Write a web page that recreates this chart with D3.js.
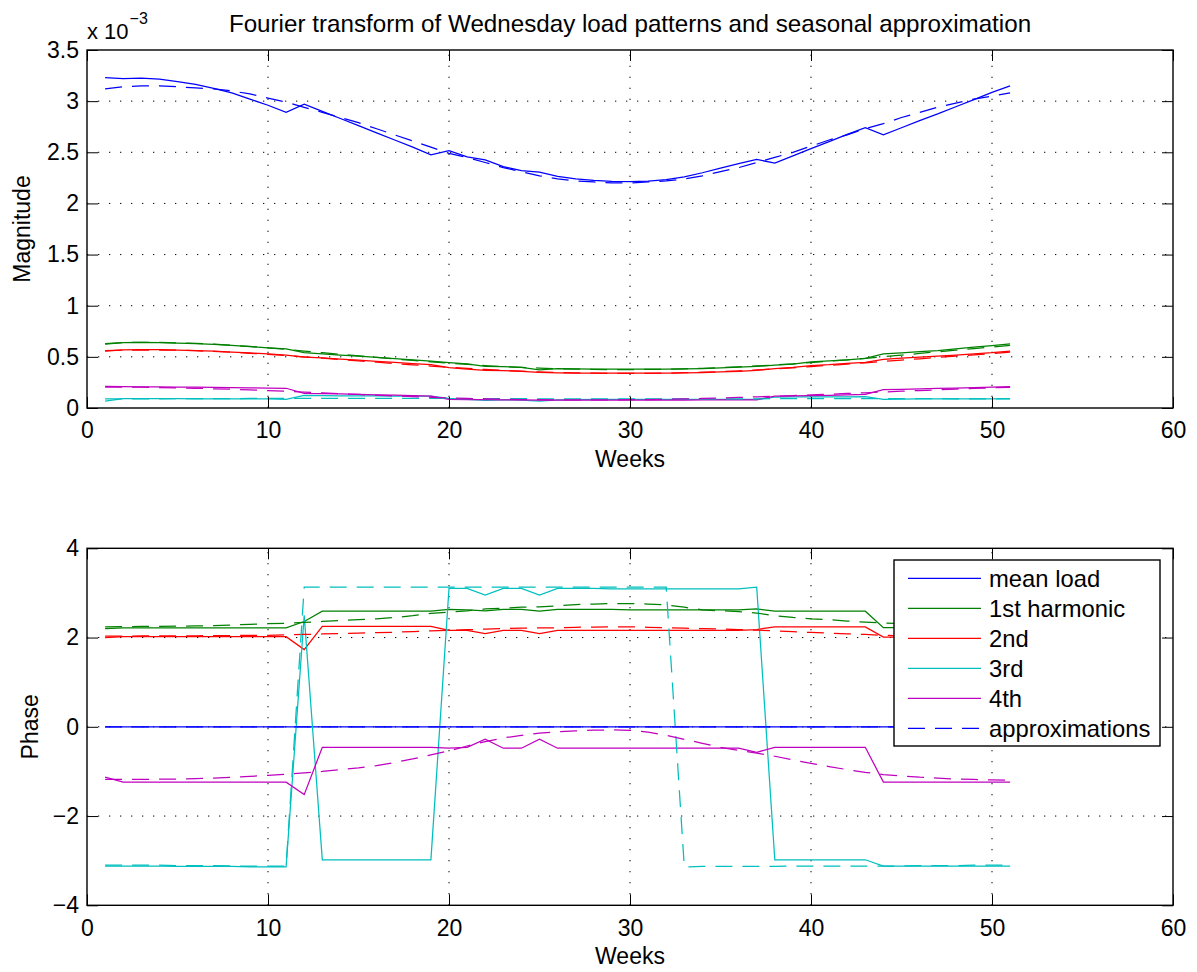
<!DOCTYPE html>
<html>
<head>
<meta charset="utf-8">
<script src="https://cdn.jsdelivr.net/npm/d3@7"></script>
<style>
  html, body { margin: 0; padding: 0; background: #fff; }
  svg { display: block; }
  text { font-family: "Liberation Sans", Arial, Helvetica, sans-serif; fill: #000; }
</style>
</head>
<body>
<svg id="chart" width="1197" height="972"></svg>
<script>
// ---------------- DATA ----------------
const weeks = [1,2,3,4,5,6,7,8,9,10,11,12,13,14,15,16,17,18,19,20,21,22,23,24,25,26,27,28,29,30,31,32,33,34,35,36,37,38,39,40,41,42,43,44,45,46,47,48,49,50,51];

const xTicks = [0,10,20,30,40,50,60];
const magTicks = [0,0.5,1,1.5,2,2.5,3,3.5];
const phaseTicks = [-4,-2,0,2,4];

const seriesNames = ["mean load","1st harmonic","2nd","3rd","4th"];
const seriesColors = ["#0000ff","#008000","#ff0000","#00bfbf","#bf00bf"];
const approxLabel = "approximations";

// Magnitude (x 10^-3)
const magMean = [3.23,3.22,3.225,3.215,3.19,3.165,3.125,3.08,3.02,2.96,
  2.89,2.97,2.90,2.83,2.76,2.69,2.62,2.55,2.475,2.515,
  2.455,2.425,2.36,2.32,2.305,2.265,2.24,2.225,2.215,2.212,
  2.218,2.232,2.26,2.30,2.345,2.39,2.43,2.395,2.465,2.535,
  2.605,2.675,2.74,2.67,2.74,2.81,2.875,2.945,3.015,3.085,3.15];
const magMeanApprox = [3.12,3.14,3.15,3.15,3.14,3.13,3.12,3.10,3.07,3.03,
  2.99,2.94,2.89,2.84,2.79,2.73,2.67,2.61,2.55,2.49,
  2.45,2.40,2.35,2.31,2.27,2.24,2.22,2.21,2.20,2.20,
  2.21,2.22,2.24,2.27,2.31,2.35,2.40,2.45,2.50,2.56,
  2.62,2.67,2.73,2.78,2.84,2.89,2.94,2.98,3.02,3.05,3.08];
const magH1 = [0.625,0.64,0.642,0.64,0.635,0.63,0.622,0.612,0.60,0.588,
  0.577,0.542,0.53,0.518,0.506,0.494,0.482,0.47,0.458,0.444,
  0.432,0.408,0.404,0.396,0.372,0.384,0.382,0.381,0.38,0.38,
  0.38,0.381,0.383,0.386,0.392,0.399,0.407,0.418,0.43,0.45,
  0.46,0.47,0.485,0.53,0.54,0.55,0.562,0.578,0.595,0.61,0.628];
const magH1Approx = [0.63,0.64,0.642,0.641,0.637,0.632,0.624,0.614,0.602,0.588,
  0.573,0.557,0.541,0.525,0.51,0.494,0.479,0.465,0.451,0.438,
  0.426,0.415,0.405,0.397,0.39,0.384,0.38,0.377,0.376,0.376,
  0.377,0.379,0.383,0.388,0.394,0.402,0.411,0.421,0.432,0.444,
  0.457,0.471,0.486,0.501,0.517,0.533,0.549,0.565,0.58,0.596,0.612];
const magH2 = [0.557,0.568,0.57,0.57,0.567,0.562,0.555,0.547,0.538,0.528,
  0.518,0.498,0.489,0.479,0.469,0.457,0.446,0.434,0.423,0.394,
  0.381,0.368,0.365,0.358,0.349,0.344,0.342,0.341,0.34,0.34,
  0.341,0.342,0.344,0.347,0.352,0.358,0.368,0.384,0.397,0.414,
  0.423,0.436,0.446,0.476,0.487,0.498,0.508,0.518,0.53,0.541,0.557];
const magH2Approx = [0.56,0.565,0.567,0.567,0.565,0.56,0.553,0.545,0.535,0.525,
  0.513,0.5,0.487,0.474,0.461,0.448,0.435,0.422,0.41,0.398,
  0.387,0.377,0.368,0.36,0.353,0.347,0.343,0.34,0.338,0.338,
  0.339,0.341,0.345,0.35,0.356,0.363,0.372,0.382,0.393,0.405,
  0.417,0.429,0.442,0.455,0.468,0.481,0.494,0.507,0.52,0.533,0.546];
const magH3 = [0.068,0.091,0.091,0.091,0.091,0.09,0.09,0.09,0.089,0.088,
  0.085,0.124,0.12,0.119,0.118,0.118,0.117,0.117,0.116,0.094,
  0.085,0.075,0.08,0.078,0.068,0.08,0.083,0.084,0.085,0.085,
  0.085,0.085,0.085,0.085,0.085,0.085,0.085,0.107,0.108,0.108,
  0.108,0.109,0.11,0.085,0.087,0.088,0.088,0.089,0.09,0.09,0.091];
const magH3Approx = [0.088,0.089,0.09,0.09,0.091,0.091,0.092,0.092,0.093,0.093,
  0.094,0.094,0.094,0.094,0.094,0.094,0.094,0.094,0.093,0.093,
  0.092,0.092,0.091,0.091,0.09,0.09,0.09,0.089,0.089,0.089,
  0.089,0.089,0.089,0.089,0.09,0.09,0.09,0.091,0.091,0.092,
  0.092,0.092,0.092,0.092,0.092,0.091,0.091,0.09,0.09,0.089,0.089];
const magH4 = [0.212,0.208,0.207,0.206,0.205,0.203,0.201,0.199,0.197,0.195,
  0.193,0.143,0.14,0.137,0.133,0.129,0.125,0.121,0.117,0.085,
  0.083,0.081,0.08,0.079,0.078,0.078,0.078,0.078,0.078,0.078,
  0.078,0.078,0.078,0.079,0.079,0.08,0.08,0.117,0.119,0.121,
  0.124,0.128,0.134,0.179,0.183,0.187,0.191,0.195,0.199,0.203,0.208];
const magH4Approx = [0.205,0.205,0.203,0.2,0.197,0.193,0.188,0.183,0.177,0.17,
  0.163,0.155,0.147,0.14,0.132,0.125,0.118,0.111,0.105,0.099,
  0.094,0.09,0.086,0.083,0.081,0.08,0.079,0.079,0.08,0.081,
  0.083,0.086,0.089,0.093,0.098,0.103,0.109,0.115,0.121,0.128,
  0.135,0.142,0.149,0.157,0.164,0.171,0.178,0.185,0.191,0.197,0.202];

// Phase
const phMean = [0,0,0,0,0,0,0,0,0,0,0,0,0,0,0,0,0,0,0,0,0,0,0,0,0,0,0,0,0,0,0,0,0,0,0,0,0,0,0,0,0,0,0,0,0,0,0,0,0,0,0];
const phMeanApprox = [0,0,0,0,0,0,0,0,0,0,0,0,0,0,0,0,0,0,0,0,0,0,0,0,0,0,0,0,0,0,0,0,0,0,0,0,0,0,0,0,0,0,0,0,0,0,0,0,0,0,0];
const phH1 = [2.20,2.217,2.217,2.217,2.217,2.217,2.217,2.217,2.217,2.217,
  2.217,2.36,2.59,2.59,2.59,2.59,2.59,2.59,2.59,2.63,
  2.62,2.60,2.63,2.63,2.59,2.63,2.63,2.63,2.63,2.62,
  2.62,2.62,2.62,2.62,2.62,2.62,2.64,2.59,2.59,2.59,
  2.59,2.59,2.59,2.22,2.22,2.22,2.22,2.22,2.22,2.22,2.22];
const phH1Approx = [2.24,2.245,2.25,2.25,2.255,2.26,2.27,2.28,2.295,2.31,
  2.32,2.34,2.36,2.38,2.40,2.42,2.45,2.49,2.54,2.57,
  2.60,2.64,2.66,2.68,2.69,2.71,2.74,2.75,2.76,2.76,
  2.75,2.73,2.68,2.62,2.60,2.58,2.55,2.49,2.45,2.42,
  2.40,2.37,2.345,2.325,2.31,2.29,2.27,2.26,2.25,2.24,2.23];
const phH2 = [2.0,2.02,2.02,2.02,2.02,2.02,2.02,2.02,2.02,2.02,
  2.02,1.73,2.25,2.25,2.25,2.25,2.25,2.25,2.25,2.16,
  2.16,2.09,2.16,2.16,2.09,2.16,2.16,2.16,2.16,2.16,
  2.16,2.16,2.16,2.16,2.16,2.16,2.18,2.24,2.24,2.24,
  2.24,2.24,2.24,2.01,2.01,2.01,2.01,2.01,2.01,2.01,2.01];
const phH2Approx = [2.03,2.03,2.035,2.035,2.04,2.04,2.045,2.045,2.05,2.05,
  2.06,2.07,2.08,2.09,2.10,2.11,2.12,2.135,2.15,2.16,
  2.175,2.19,2.20,2.21,2.215,2.22,2.23,2.235,2.24,2.24,
  2.23,2.22,2.21,2.20,2.19,2.18,2.165,2.15,2.13,2.115,
  2.10,2.085,2.07,2.05,2.04,2.03,2.02,2.015,2.01,2.005,2.0];
const phH3 = [-3.12,-3.12,-3.12,-3.12,-3.13,-3.13,-3.13,-3.13,-3.14,-3.14,
  -3.14,2.50,-2.98,-2.98,-2.98,-2.98,-2.98,-2.98,-2.98,3.10,
  3.10,2.95,3.10,3.10,2.95,3.10,3.10,3.10,3.09,3.09,
  3.09,3.09,3.09,3.09,3.09,3.09,3.13,-2.98,-2.98,-2.98,
  -2.98,-2.98,-2.98,-3.12,-3.12,-3.12,-3.12,-3.12,-3.12,-3.12,-3.12];
const phH3Approx = [-3.10,-3.10,-3.10,-3.10,-3.11,-3.11,-3.11,-3.12,-3.12,-3.12,
  -3.12,3.13,3.13,3.13,3.13,3.13,3.13,3.13,3.13,3.13,
  3.13,3.13,3.13,3.13,3.13,3.13,3.13,3.13,3.13,3.13,
  3.13,3.13,-3.14,-3.13,-3.13,-3.13,-3.13,-3.13,-3.12,-3.12,
  -3.12,-3.12,-3.12,-3.12,-3.12,-3.11,-3.11,-3.11,-3.10,-3.10,-3.10];
const phH4 = [-1.13,-1.24,-1.24,-1.24,-1.24,-1.24,-1.24,-1.24,-1.24,-1.24,
  -1.24,-1.52,-0.46,-0.46,-0.46,-0.46,-0.46,-0.46,-0.46,-0.48,
  -0.46,-0.28,-0.48,-0.48,-0.28,-0.48,-0.48,-0.48,-0.48,-0.48,
  -0.48,-0.48,-0.48,-0.48,-0.48,-0.48,-0.57,-0.46,-0.46,-0.46,
  -0.46,-0.46,-0.46,-1.24,-1.24,-1.24,-1.24,-1.24,-1.24,-1.24,-1.24];
const phH4Approx = [-1.18,-1.18,-1.18,-1.175,-1.17,-1.16,-1.15,-1.13,-1.11,-1.09,
  -1.06,-1.03,-1.0,-0.96,-0.92,-0.87,-0.80,-0.72,-0.63,-0.54,
  -0.43,-0.33,-0.25,-0.19,-0.14,-0.11,-0.09,-0.075,-0.07,-0.08,
  -0.12,-0.19,-0.28,-0.37,-0.46,-0.53,-0.59,-0.66,-0.74,-0.82,
  -0.89,-0.96,-1.02,-1.07,-1.10,-1.13,-1.15,-1.17,-1.18,-1.19,-1.20];

// ---------------- DRAW ----------------
const svg = d3.select("#chart");
const FONT = 23;
const L = 87, R = 1173;
const x = d3.scaleLinear().domain([0, 60]).range([L, R]);

function fmt(d) { return d < 0 ? "\u2212" + Math.abs(d) : String(d); }

function panel(yScale, yTicks, solids, approxs, opts) {
  const g = svg.append("g");
  const [yb, yt] = yScale.range();
  // grid
  const grid = g.append("g").attr("stroke", "#000").attr("stroke-width", 1)
    .attr("stroke-dasharray", "1.3,9.7");
  xTicks.slice(1, -1).forEach(t => {
    grid.append("line").attr("x1", x(t)).attr("x2", x(t)).attr("y1", yb).attr("y2", yt);
  });
  yTicks.slice(1, -1).forEach(t => {
    grid.append("line").attr("x1", L).attr("x2", R).attr("y1", yScale(t)).attr("y2", yScale(t));
  });

  // series
  const line = vals => d3.line().x((d, i) => x(weeks[i])).y(d => yScale(d))(vals);
  solids.forEach((vals, k) => {
    g.append("path").attr("d", line(vals)).attr("fill", "none")
      .attr("stroke", seriesColors[k]).attr("stroke-width", 1.25);
  });
  approxs.forEach((vals, k) => {
    g.append("path").attr("d", line(vals)).attr("fill", "none")
      .attr("stroke", seriesColors[k]).attr("stroke-width", 1.25)
      .attr("stroke-dasharray", "17,10");
  });

  // axes
  const axB = d3.axisBottom(x).tickValues(xTicks).tickSize(-11).tickSizeOuter(0).tickPadding(14).tickFormat(fmt);
  const axT = d3.axisTop(x).tickValues(xTicks).tickSize(-11).tickSizeOuter(0).tickFormat("");
  const axL = d3.axisLeft(yScale).tickValues(yTicks).tickSize(-11).tickSizeOuter(0).tickPadding(8).tickFormat(fmt);
  const axR = d3.axisRight(yScale).tickValues(yTicks).tickSize(-11).tickSizeOuter(0).tickFormat("");
  const style = sel => {
    sel.selectAll("path.domain").remove();
    sel.selectAll("line").attr("stroke", "#000").attr("stroke-width", 1);
    sel.selectAll("text").style("font-size", FONT + "px")
      .style("font-family", "'Liberation Sans', Arial, Helvetica, sans-serif").attr("fill", "#000");
  };
  g.append("g").attr("transform", `translate(0,${yb})`).call(axB).call(style);
  g.append("g").attr("transform", `translate(0,${yt})`).call(axT).call(style);
  g.append("g").attr("transform", `translate(${L},0)`).call(axL).call(style);
  g.append("g").attr("transform", `translate(${R},0)`).call(axR).call(style);
  g.append("rect").attr("x", L).attr("y", yt).attr("width", R - L).attr("height", yb - yt)
    .attr("fill", "none").attr("stroke", "#000").attr("stroke-width", 1.4);

  // labels
  g.append("text").attr("x", (L + R) / 2).attr("y", yb + 59).attr("text-anchor", "middle")
    .style("font-size", FONT + "px").text("Weeks");
  g.append("text").attr("transform", `translate(${opts.ylabelX},${(yb + yt) / 2}) rotate(-90)`)
    .attr("text-anchor", "middle").style("font-size", FONT + "px").text(opts.ylabel);
  return g;
}

// Top panel: magnitude
const yTop = d3.scaleLinear().domain([0, 3.5]).range([408, 50]);
panel(yTop, magTicks,
  [magMean, magH1, magH2, magH3, magH4],
  [magMeanApprox, magH1Approx, magH2Approx, magH3Approx, magH4Approx],
  { ylabel: "Magnitude", ylabelX: 30 });

// Bottom panel: phase
const yBot = d3.scaleLinear().domain([-4, 4]).range([905.3, 548.3]);
panel(yBot, phaseTicks,
  [phMean, phH1, phH2, phH3, phH4],
  [phMeanApprox, phH1Approx, phH2Approx, phH3Approx, phH4Approx],
  { ylabel: "Phase", ylabelX: 38 });

// Title
svg.append("text").attr("x", (L + R) / 2).attr("y", 32).attr("text-anchor", "middle")
  .style("font-size", "24.2px").text("Fourier transform of Wednesday load patterns and seasonal approximation");

// Exponent label
const ex = svg.append("text").attr("x", 87).attr("y", 39).style("font-size", "22px");
ex.append("tspan").text("x 10");
ex.append("tspan").attr("dy", -15).attr("dx", 1).style("font-size", "16px").text("\u22123");

// Legend
const lg = svg.append("g");
const lx = 894, ly = 560, lw = 266, lh = 186;
lg.append("rect").attr("x", lx).attr("y", ly).attr("width", lw).attr("height", lh)
  .attr("fill", "#fff").attr("stroke", "#000").attr("stroke-width", 1.4);
const legendItems = seriesNames.map((n, i) => ({ name: n, color: seriesColors[i], dash: null }))
  .concat([{ name: approxLabel, color: seriesColors[0], dash: "17,10" }]);
legendItems.forEach((it, i) => {
  const yy = 578.3 + i * 30;
  lg.append("line").attr("x1", 908).attr("x2", 981).attr("y1", yy).attr("y2", yy)
    .attr("stroke", it.color).attr("stroke-width", 1.25)
    .attr("stroke-dasharray", it.dash);
  lg.append("text").attr("x", 989).attr("y", yy + 8.5).style("font-size", "23.8px").text(it.name);
});
</script>
</body>
</html>
